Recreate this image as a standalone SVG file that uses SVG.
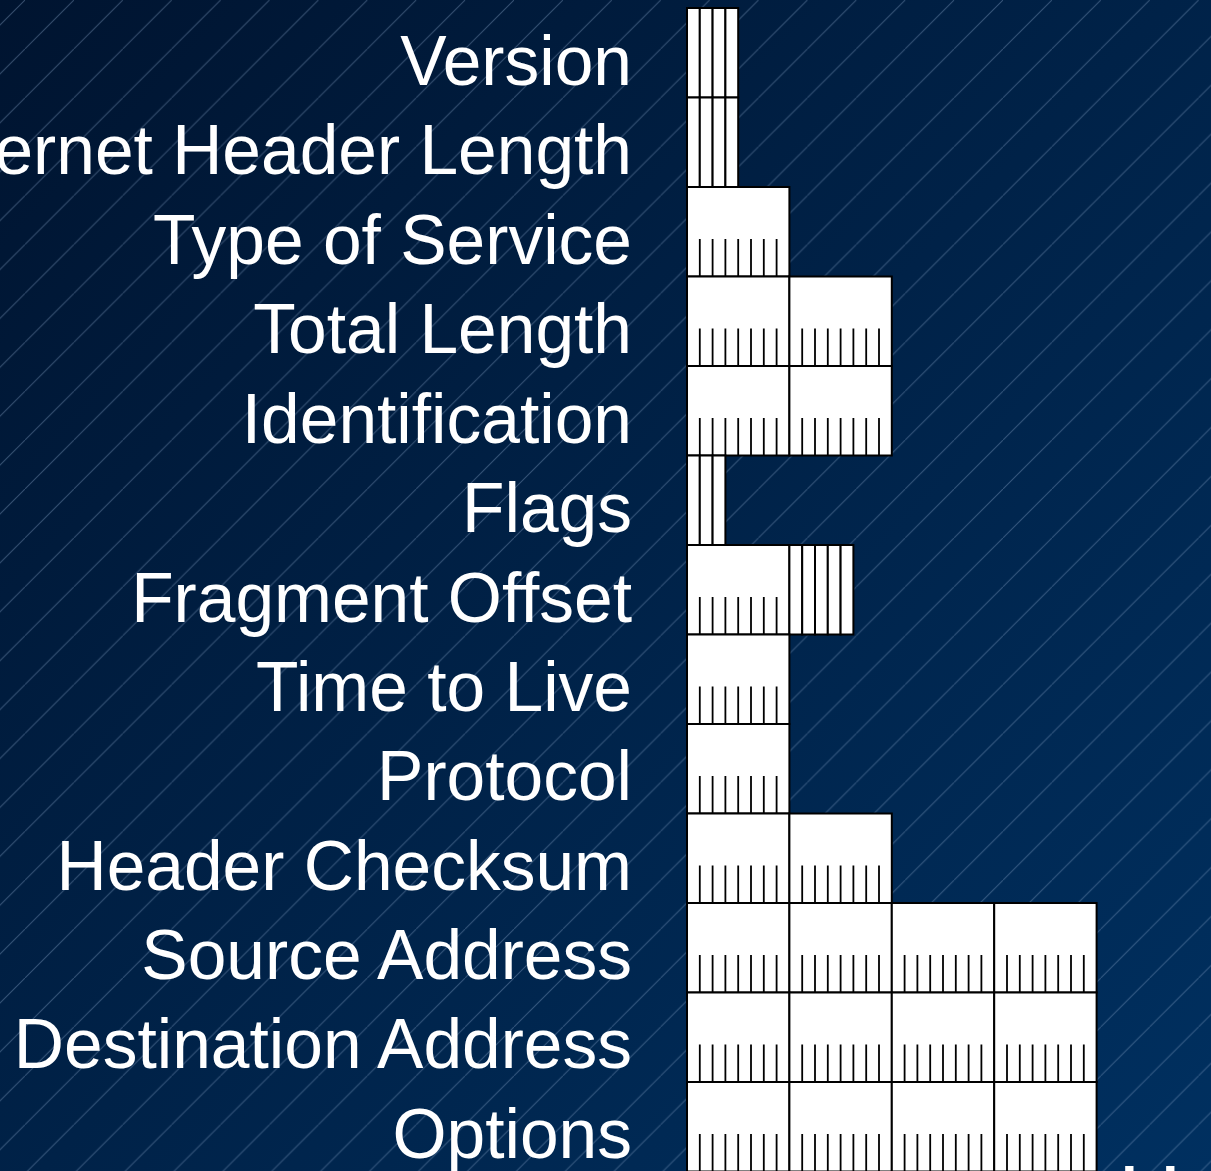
<svg xmlns="http://www.w3.org/2000/svg" xmlns:xlink="http://www.w3.org/1999/xlink" width="1211" height="1171" viewBox="0 0 1211 1171">
  <style>
    .label { font-family: "Liberation Sans", Arial, sans-serif; font-size: 69.5px; fill: #ffffff; text-anchor: end; }
    .big { font-family: "Liberation Sans", Arial, sans-serif; font-size: 88px; fill: #ffffff; }
    .cell { fill: #ffffff; stroke: #000000; stroke-width: 2; }
    .tick { fill: none; stroke: #000000; stroke-width: 1.8; }
  </style>
  <defs>
    <linearGradient id="bg" x1="0" y1="0" x2="1211" y2="1171" gradientUnits="userSpaceOnUse">
      <stop offset="0" stop-color="#001430"/>
      <stop offset="1" stop-color="#003060"/>
    </linearGradient>
    <pattern id="hatch" x="25" y="0" width="48.9" height="48.9" patternUnits="userSpaceOnUse">
      <path d="M-1,49.9 L49.9,-1" stroke="#8aa6c8" stroke-opacity="0.4" stroke-width="1" fill="none"/>
    </pattern>
    <!-- one byte: 8 bits, ticks along the bottom edge -->
    <g id="byte">
      <rect class="cell" x="0" y="0" width="102.4" height="89.5"/>
      <path class="tick" d="M12.8,52V89.5M25.6,52V89.5M38.4,52V89.5M51.2,52V89.5M64,52V89.5M76.8,52V89.5M89.6,52V89.5"/>
    </g>
    <!-- one single bit, full height -->
    <rect id="bit" class="cell" x="0" y="0" width="12.8" height="89.5"/>
  </defs>

  <rect width="1211" height="1171" fill="url(#bg)"/>
  <rect width="1211" height="1171" fill="url(#hatch)"/>

  <g id="version">
    <text class="label" x="632" y="84.5">Version</text>
    <use xlink:href="#bit" x="687" y="8"/><use xlink:href="#bit" x="699.8" y="8"/>
    <use xlink:href="#bit" x="712.6" y="8"/><use xlink:href="#bit" x="725.4" y="8"/>
  </g>
  <g id="ihl">
    <text class="label" x="632" y="174">Internet Header Length</text>
    <use xlink:href="#bit" x="687" y="97.5"/><use xlink:href="#bit" x="699.8" y="97.5"/>
    <use xlink:href="#bit" x="712.6" y="97.5"/><use xlink:href="#bit" x="725.4" y="97.5"/>
  </g>
  <g id="tos">
    <text class="label" x="632" y="263.5">Type of Service</text>
    <use xlink:href="#byte" x="687" y="187"/>
  </g>
  <g id="total-length">
    <text class="label" x="632" y="353">Total Length</text>
    <use xlink:href="#byte" x="687" y="276.5"/><use xlink:href="#byte" x="789.4" y="276.5"/>
  </g>
  <g id="identification">
    <text class="label" x="632" y="442.5">Identification</text>
    <use xlink:href="#byte" x="687" y="366"/><use xlink:href="#byte" x="789.4" y="366"/>
  </g>
  <g id="flags">
    <text class="label" x="632" y="532">Flags</text>
    <use xlink:href="#bit" x="687" y="455.5"/><use xlink:href="#bit" x="699.8" y="455.5"/>
    <use xlink:href="#bit" x="712.6" y="455.5"/>
  </g>
  <g id="fragment-offset">
    <text class="label" x="632" y="621.5">Fragment Offset</text>
    <use xlink:href="#byte" x="687" y="545"/>
    <use xlink:href="#bit" x="789.4" y="545"/><use xlink:href="#bit" x="802.2" y="545"/>
    <use xlink:href="#bit" x="815" y="545"/><use xlink:href="#bit" x="827.8" y="545"/>
    <use xlink:href="#bit" x="840.6" y="545"/>
  </g>
  <g id="ttl">
    <text class="label" x="632" y="711">Time to Live</text>
    <use xlink:href="#byte" x="687" y="634.5"/>
  </g>
  <g id="protocol">
    <text class="label" x="632" y="800">Protocol</text>
    <use xlink:href="#byte" x="687" y="724"/>
  </g>
  <g id="header-checksum">
    <text class="label" x="632" y="889.5">Header Checksum</text>
    <use xlink:href="#byte" x="687" y="813.5"/><use xlink:href="#byte" x="789.4" y="813.5"/>
  </g>
  <g id="source-address">
    <text class="label" x="632" y="979">Source Address</text>
    <use xlink:href="#byte" x="687" y="903"/><use xlink:href="#byte" x="789.4" y="903"/>
    <use xlink:href="#byte" x="891.8" y="903"/><use xlink:href="#byte" x="994.2" y="903"/>
  </g>
  <g id="destination-address">
    <text class="label" x="632" y="1068">Destination Address</text>
    <use xlink:href="#byte" x="687" y="992.5"/><use xlink:href="#byte" x="789.4" y="992.5"/>
    <use xlink:href="#byte" x="891.8" y="992.5"/><use xlink:href="#byte" x="994.2" y="992.5"/>
  </g>
  <g id="options">
    <text class="label" x="632" y="1157.5">Options</text>
    <use xlink:href="#byte" x="687" y="1082"/><use xlink:href="#byte" x="789.4" y="1082"/>
    <use xlink:href="#byte" x="891.8" y="1082"/><use xlink:href="#byte" x="994.2" y="1082"/>
  </g>
  <g id="trailing-text">
    <text class="big" x="1118" y="1226">H</text>
  </g>
  <g id="connectors"/>
</svg>
